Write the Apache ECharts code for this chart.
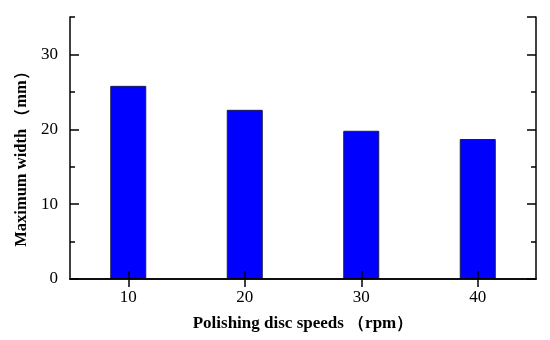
<!DOCTYPE html>
<html>
<head>
<meta charset="utf-8">
<script src="https://cdn.jsdelivr.net/npm/echarts@6/dist/echarts.min.js"></script>
<style>html,body{margin:0;padding:0;background:#fff;}#c{width:550px;height:340px;}</style>
</head>
<body>
<div id="c"></div>
<script>
var categories = ['10', '20', '30', '40'];
var maxWidth = [25.8, 22.6, 19.8, 18.7];
var xName = 'Polishing disc speeds （rpm）';
var yName = 'Maximum width （mm）';

var font = 'Liberation Serif';
var chart = echarts.init(document.getElementById('c'), null, {renderer: 'canvas'});
var lineStyle = {color: '#000', width: 1.5};
function tick(len) { return {show: true, inside: true, alignWithLabel: true, length: len, lineStyle: {color: '#000', width: 1.5}}; }
chart.setOption({
  animation: false,
  backgroundColor: '#fff',
  grid: {left: 70, right: 14, top: 17, bottom: 61, containLabel: false},
  xAxis: [
    {
      type: 'category', data: categories, position: 'bottom', z: 5,
      axisLine: {show: true, lineStyle: lineStyle},
      axisTick: tick(8),
      axisLabel: {color: '#000', fontFamily: font, fontSize: 17, margin: 10},
      name: xName, nameLocation: 'middle', nameGap: 36,
      nameTextStyle: {color: '#000', fontFamily: font, fontSize: 17, fontWeight: 'bold'}
    },
    {
      type: 'category', data: categories, position: 'top', z: 5,
      axisLine: {show: true, lineStyle: lineStyle},
      axisTick: tick(8),
      axisLabel: {show: false}
    }
  ],
  yAxis: [
    {
      type: 'value', min: 0, max: 35, interval: 10, position: 'left', z: 5,
      axisLine: {show: true, lineStyle: lineStyle},
      axisTick: tick(9),
      axisLabel: {color: '#000', fontFamily: font, fontSize: 17, margin: 12, showMaxLabel: false},
      splitLine: {show: false},
      name: yName, nameLocation: 'middle', nameGap: 40, nameRotate: 90,
      nameTextStyle: {color: '#000', fontFamily: font, fontSize: 16.5, fontWeight: 'bold', padding: [0, 0, 0, -14]}
    },
    {
      type: 'value', min: 0, max: 35, interval: 5, position: 'left', z: 5,
      axisLine: {show: false},
      axisTick: tick(5),
      axisLabel: {show: false}, splitLine: {show: false}
    },
    {
      type: 'value', min: 0, max: 35, interval: 10, position: 'right', z: 5,
      axisLine: {show: true, lineStyle: lineStyle},
      axisTick: tick(9),
      axisLabel: {show: false}, splitLine: {show: false}
    },
    {
      type: 'value', min: 0, max: 35, interval: 5, position: 'right', z: 5,
      axisLine: {show: false},
      axisTick: tick(5),
      axisLabel: {show: false}, splitLine: {show: false}
    }
  ],
  series: [{
    type: 'bar', data: maxWidth, barWidth: 36, xAxisIndex: 0, yAxisIndex: 0, z: 1,
    itemStyle: {color: '#0000ff', borderColor: '#1a1a50', borderWidth: 1}
  }]
});
</script>
</body>
</html>
